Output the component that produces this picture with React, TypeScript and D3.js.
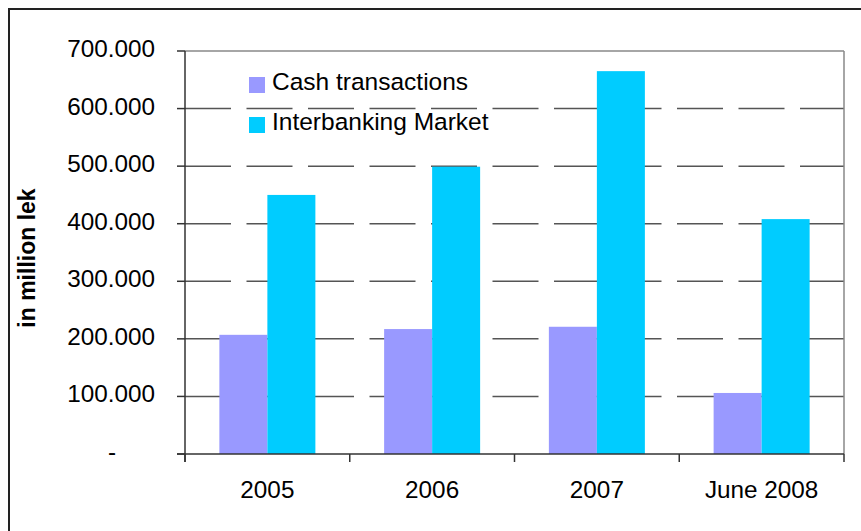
import React from "react";
import * as d3 from "d3";

const categories = ["2005", "2006", "2007", "June 2008"];
const seriesNames = ["Cash transactions", "Interbanking Market"];
const cashValues = [207, 217, 221, 106];
const interbankValues = [450, 499, 665, 408];
const yTicks = [0, 100, 200, 300, 400, 500, 600, 700];
const yTickLabels = ["-", "100.000", "200.000", "300.000", "400.000", "500.000", "600.000", "700.000"];
const colors = ["#9999FF", "#00CCFF"];

const W = 861;
const H = 531;
const left = 185;
const right = 844;
const top = 51;
const bottom = 454;
const FONT = "'Liberation Sans', Arial, sans-serif";

export default function App() {
  const x = d3.scaleBand<string>().domain(categories).range([left, right]).paddingInner(0).paddingOuter(0);
  const xs = d3
    .scaleBand<string>()
    .domain(seriesNames)
    .range([0, x.bandwidth()])
    .paddingInner(0)
    .paddingOuter(0.716);
  const y = d3.scaleLinear().domain([0, 700]).range([bottom, top]);
  const seriesValues = [cashValues, interbankValues];
  const bounds = [...categories.map((c) => x(c) as number), right];

  return (
    <svg
      width={W}
      height={H}
      style={{ position: "absolute", left: 0, top: 0, background: "#fff" }}
      fontFamily={FONT}
    >
      <rect x={0} y={0} width={W} height={H} fill="#fff" />
      {/* outer chart border */}
      <rect x={9} y={9} width={W + 50} height={H + 50} fill="none" stroke="#222" strokeWidth={2} />

      {/* gridlines */}
      {yTicks
        .filter((t) => t > 0 && t < 700)
        .map((t) => (
          <line
            key={"g" + t}
            x1={left}
            x2={right}
            y1={y(t)}
            y2={y(t)}
            stroke="#555"
            strokeWidth={1.5}
            strokeDasharray="46 15.5"
          />
        ))}

      {/* plot area border top/right */}
      <line x1={left} x2={right} y1={top} y2={top} stroke="#888" strokeWidth={1.5} />
      <line x1={right} x2={right} y1={top} y2={bottom} stroke="#888" strokeWidth={1.5} />

      {/* bars */}
      {seriesNames.map((s, si) =>
        categories.map((c, ci) => {
          const v = seriesValues[si][ci];
          return (
            <rect
              key={s + c}
              x={(x(c) as number) + (xs(s) as number)}
              y={y(v)}
              width={xs.bandwidth()}
              height={bottom - y(v)}
              fill={colors[si]}
            />
          );
        })
      )}

      {/* y axis */}
      <line x1={left} x2={left} y1={top} y2={bottom + 8} stroke="#333" strokeWidth={1.5} />
      {yTicks.map((t, i) => (
        <g key={"yt" + t}>
          <line x1={left - 8} x2={left} y1={y(t)} y2={y(t)} stroke="#333" strokeWidth={1.5} />
          <text
            x={t === 0 ? 116 : 155}
            y={y(t) + 6}
            textAnchor="end"
            fontSize={24.3}
            fill="#000"
          >
            {yTickLabels[i]}
          </text>
        </g>
      ))}

      {/* x axis */}
      <line x1={left - 8} x2={right} y1={bottom} y2={bottom} stroke="#333" strokeWidth={1.5} />
      {bounds.map((b, i) => (
        <line key={"xt" + i} x1={b} x2={b} y1={bottom} y2={bottom + 8} stroke="#333" strokeWidth={1.5} />
      ))}
      {categories.map((c) => (
        <text
          key={"xl" + c}
          x={(x(c) as number) + x.bandwidth() / 2}
          y={498}
          textAnchor="middle"
          fontSize={24.3}
          fill="#000"
        >
          {c}
        </text>
      ))}

      {/* y axis title */}
      <text
        transform={`translate(35, 258) rotate(-90)`}
        textAnchor="middle"
        fontSize={23}
        fontWeight="bold"
        fill="#000"
      >
        in million lek
      </text>

      {/* legend */}
      {seriesNames.map((s, i) => (
        <g key={"lg" + s} transform={`translate(249, ${77 + i * 40})`}>
          <rect x={0} y={0} width={16} height={16} fill={colors[i]} />
          <text x={23} y={13} fontSize={24.5} fill="#000">
            {s}
          </text>
        </g>
      ))}
    </svg>
  );
}
